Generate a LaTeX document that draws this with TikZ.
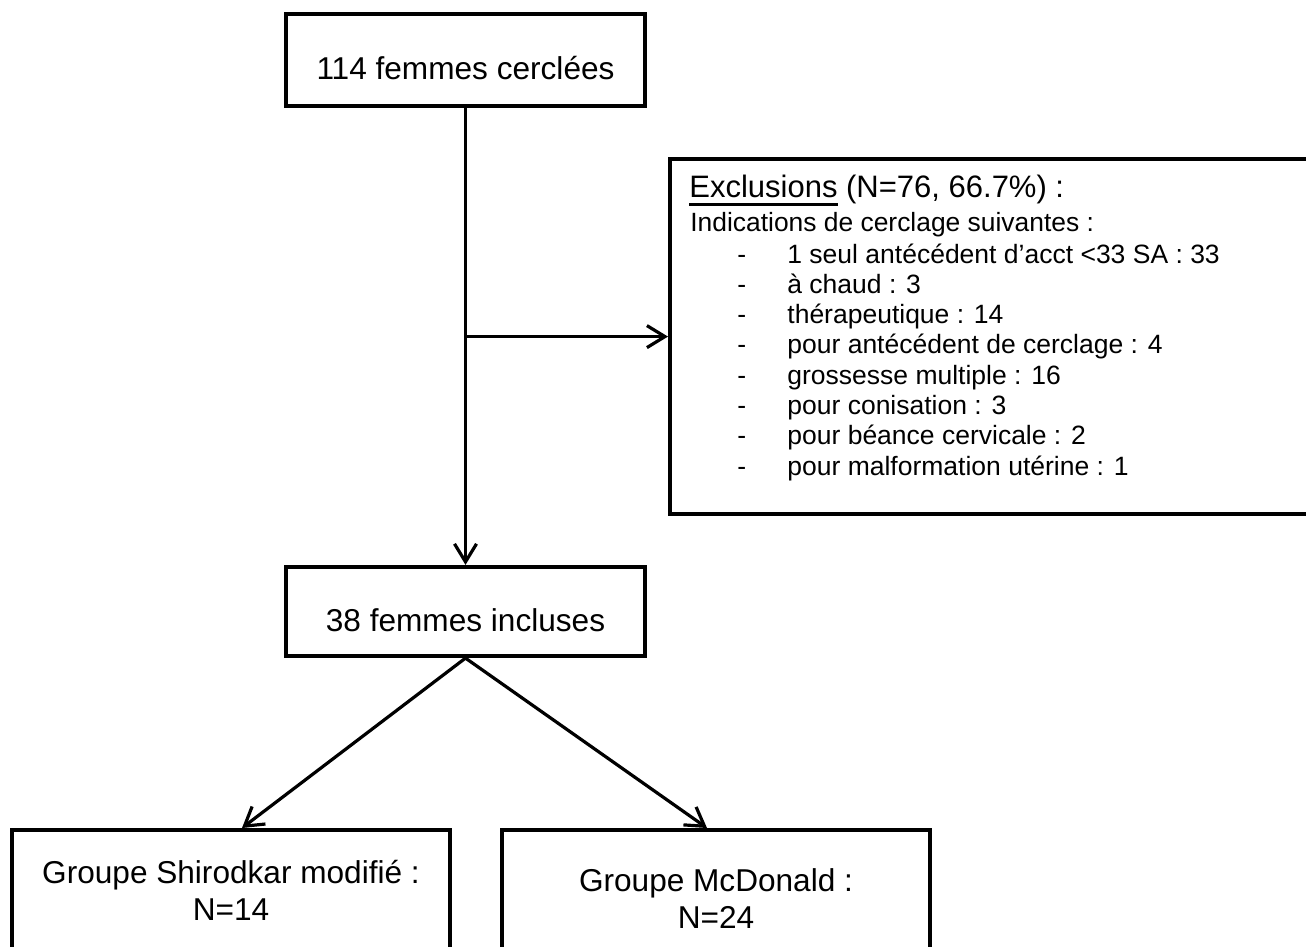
\documentclass[tikz,border=0pt]{standalone}
\usepackage{fontspec}
\setmainfont{Liberation Sans}
\usetikzlibrary{arrows.meta,calc}
\newcommand\myul[1]{\setbox0\hbox{#1}\rlap{\rule[-4pt]{\wd0}{1.4pt}}\box0\relax}
\begin{document}
\begin{tikzpicture}[x=0.5pt,y=-0.5pt,
  box/.style={draw=black,line width=2.1pt,rectangle,inner sep=0pt,font=\fontsize{15.8}{18.5}\selectfont},
  onetext/.style={text height=19.5pt,text depth=0pt},
  arr/.style={line width=1.6pt,-{Straight Barb[length=9pt,width=11pt]}},
  lst/.style={anchor=base west,inner sep=0pt,font=\fontsize{13.25}{15}\selectfont}]
\useasboundingbox (0,0) rectangle (1306,947);
\clip (0,0) rectangle (1306,947);
% boxes
\node[box,onetext,minimum width=179.5pt,minimum height=46pt] (top) at (465.5,60) {114 femmes cerclées};
\node[box,onetext,minimum width=179.5pt,minimum height=44.5pt] (inc) at (465.5,611.5) {38 femmes incluses};
\node[box,anchor=north west,minimum width=325pt,minimum height=177.5pt] (excl) at (668,157) {};
\node[box,anchor=north,minimum width=219pt,minimum height=60pt,align=center] (sh) at (231,828) {Groupe Shirodkar modifié :\\N=14};
\node[box,anchor=north,minimum width=214pt,minimum height=68pt,align=center] (mc) at (716,828) {Groupe McDonald :\\N=24};
% exclusion texts
\node[lst,font=\fontsize{15.5}{18}\selectfont] (hd) at (689,198) {\myul{Exclusions} (N=76, 66.7\%) :};
\node[lst,font=\fontsize{13.2}{15}\selectfont] (ind) at (690,231) {Indications de cerclage suivantes :};
\foreach \t [count=\i] in {1 seul antécédent d’acct <33 SA : 33, à chaud : 3, thérapeutique : 14, pour antécédent de cerclage : 4, grossesse multiple : 16, pour conisation : 3, pour béance cervicale : 2, pour malformation utérine : 1}{
  \node[lst] (d\i) at (737,{263+30.3*(\i-1)}) {-};
  \node[lst] (t\i) at (787,{263+30.3*(\i-1)}) {\t};
}
% connectors
\draw[arr] (top.south) -- (inc.north);
\coordinate (br) at (top.south |- excl.west);
\draw[arr] (br) -- (excl.west);
\draw[arr] (inc.south) -- ([xshift=5.5pt]sh.north);
\draw[arr] (inc.south) -- ([xshift=-4.5pt]mc.north);
\end{tikzpicture}
\end{document}
